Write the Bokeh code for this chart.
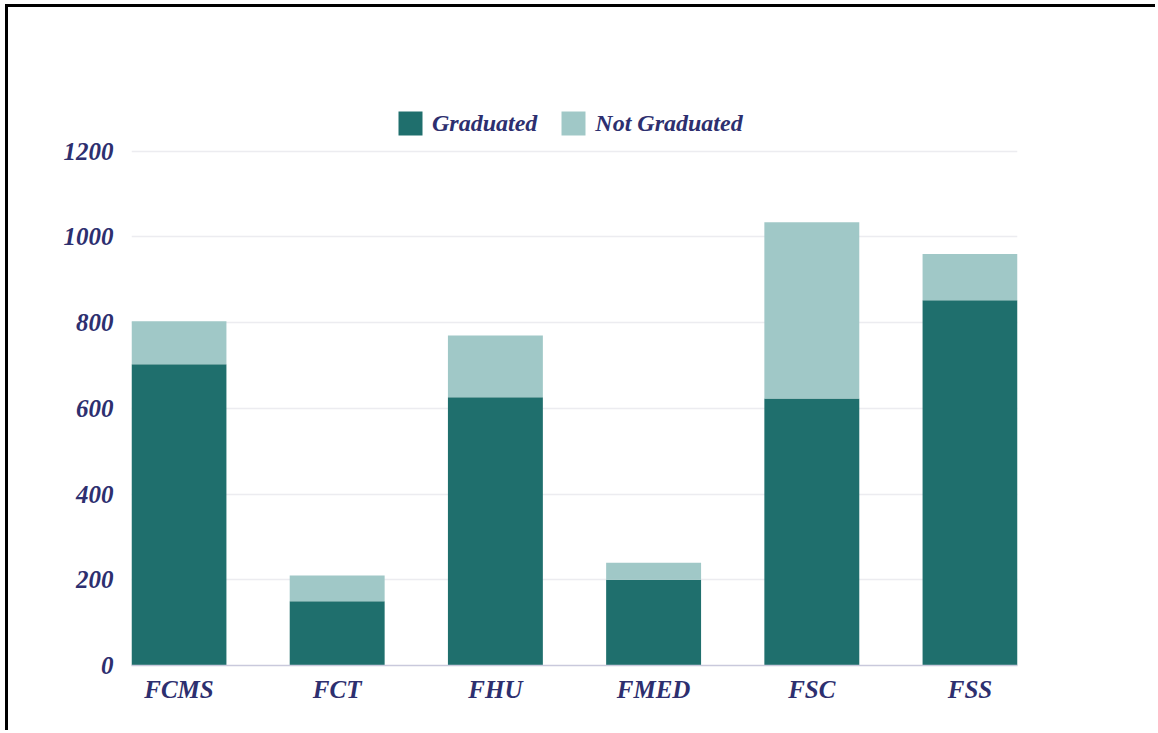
from bokeh.plotting import figure
from bokeh.models import ColumnDataSource, Legend, LegendItem, FixedTicker, Range1d
from bokeh.embed import file_html
from bokeh.resources import INLINE

faculties = ["FCMS", "FCT", "FHU", "FMED", "FSC", "FSS"]
graduated = [703, 150, 626, 200, 623, 852]
not_graduated = [100, 60, 144, 40, 411, 108]
y_ticks = [0, 200, 400, 600, 800, 1000, 1200]

FONT = "Liberation Serif"
TEXT = "#2d2f6f"
DARK = "#1f6f6d"
LIGHT = "#a0c8c7"

source = ColumnDataSource(dict(
    x=list(range(len(faculties))),
    graduated=graduated,
    not_graduated=not_graduated,
))

p = figure(width=1150, height=726, output_backend="svg", toolbar_location=None,
           x_range=Range1d(-0.3, len(faculties) - 0.7), y_range=Range1d(0, 1330),
           min_border_left=123, min_border_right=141, min_border_top=88,
           min_border_bottom=68, outline_line_color=None)
p.styles = {"border-left": "3px solid black", "border-top": "3px solid black",
            "position": "relative", "left": "5px", "top": "4px"}

rs = p.vbar_stack(["graduated", "not_graduated"], x="x", width=0.6, source=source,
                  color=[DARK, LIGHT], line_color=None)

legend = Legend(items=[LegendItem(label="Graduated", renderers=[rs[0]]),
                       LegendItem(label="Not Graduated", renderers=[rs[1]])],
                orientation="horizontal", location=(264, 527))
legend.glyph_width = 30
legend.glyph_height = 30
legend.label_text_font = FONT
legend.label_text_font_style = "bold italic"
legend.label_text_font_size = "24px"
legend.label_text_color = TEXT
legend.label_standoff = 7
legend.spacing = 21
legend.padding = 0
legend.margin = 0
legend.border_line_color = None
legend.background_fill_alpha = 0
p.add_layout(legend, "center")

p.xaxis.ticker = FixedTicker(ticks=list(range(len(faculties))))
p.xaxis.major_label_overrides = {i: f for i, f in enumerate(faculties)}
p.yaxis.ticker = FixedTicker(ticks=y_ticks)

for ax in (p.xaxis, p.yaxis):
    ax.major_label_text_font = FONT
    ax.major_label_text_font_style = "bold italic"
    ax.major_label_text_font_size = "25px"
    ax.major_label_text_color = TEXT
    ax.major_tick_line_color = None
    ax.minor_tick_line_color = None

p.xaxis.axis_line_color = "#c9c9dc"
p.xaxis.axis_line_width = 1.5
p.xaxis.major_label_standoff = 4
p.yaxis.axis_line_color = None
p.yaxis.major_label_standoff = 12

p.xgrid.grid_line_color = None
p.ygrid.grid_line_color = "#ececf0"
p.ygrid.grid_line_width = 1.5

open("out.html", "w").write(file_html(p, INLINE))
